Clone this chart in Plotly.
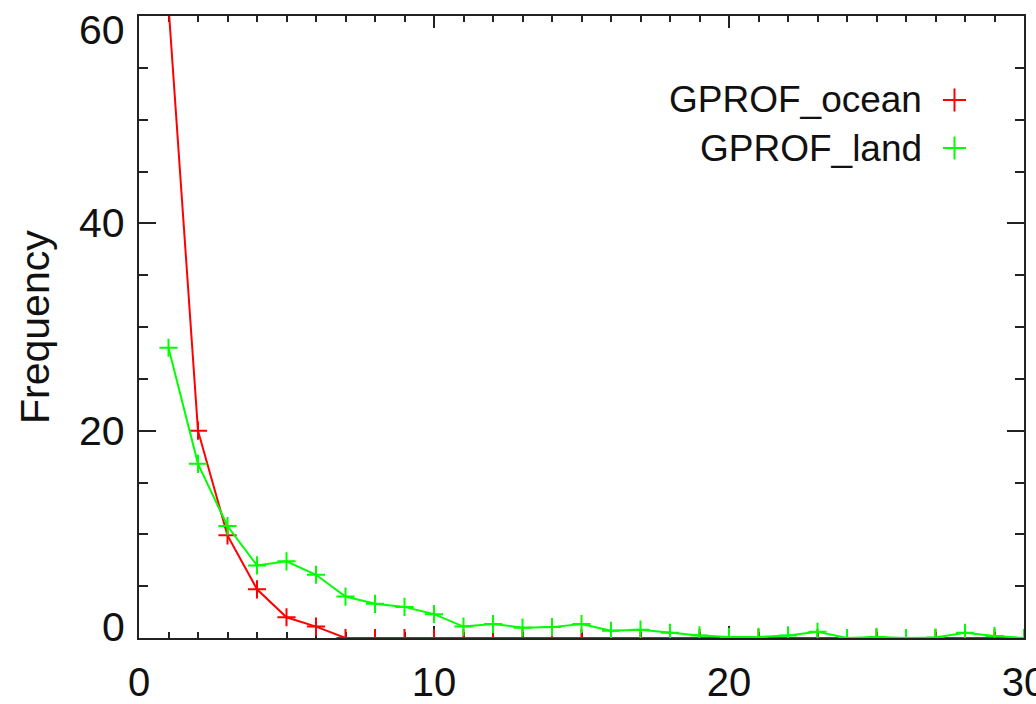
import plotly.graph_objects as go

# Frequency distributions for the two GPROF surface classes
bins = list(range(1, 31))
ocean_freq = [61.0, 20.0, 9.9, 4.7, 2.0, 1.1, 0, 0, 0, 0,
              0, 0, 0, 0, 0, 0, 0, 0, 0, 0,
              0, 0, 0, 0, 0, 0, 0, 0, 0, 0]
land_freq = [28.0, 16.8, 10.8, 7.0, 7.4, 6.1, 4.0, 3.3, 3.0, 2.3,
             1.1, 1.35, 1.0, 1.05, 1.35, 0.7, 0.8, 0.5, 0.25, 0.1,
             0.1, 0.25, 0.6, 0.0, 0.1, 0.0, 0.05, 0.5, 0.2, 0.0]

x_ticks = [0, 10, 20, 30]
y_ticks = [0, 20, 40, 60]

series = [("GPROF_ocean", ocean_freq, "#ff0000"),
          ("GPROF_land", land_freq, "#00ff00")]

FONT = "Liberation Sans"
TXT = "#111111"
W, H = 1036, 704
ML, MR, MT, MB = 139, 12, 16, 66

fig = go.Figure()
for name, vals, col in series:
    fig.add_trace(go.Scatter(
        x=bins, y=vals, mode="lines+markers", name=name,
        line=dict(color=col, width=2),
        marker=dict(symbol="cross-thin", size=13,
                    line=dict(color=col, width=2)),
        cliponaxis=True, showlegend=False,
    ))

axis_common = dict(
    showgrid=False, zeroline=False, showline=True, mirror="allticks",
    linecolor="#222222", linewidth=2, ticks="inside",
    tickcolor="#222222", tickwidth=2, layer="below traces",
    ticklabeloverflow="allow", automargin=False,
    tickfont=dict(family=FONT, size=40, color=TXT),
)

fig.update_xaxes(range=[0, 30], tickvals=x_ticks, ticklen=12,
                 minor=dict(dtick=1, ticklen=6, ticks="inside",
                            tickcolor="#222222", tickwidth=2),
                 ticklabelstandoff=8,
                 **axis_common)
fig.update_yaxes(range=[0, 60], tickvals=y_ticks, ticklen=17,
                 showticklabels=False,
                 minor=dict(dtick=5, ticklen=9, ticks="inside",
                            tickcolor="#222222", tickwidth=2),
                 **axis_common)

# Y tick labels: the end labels are nudged inward so they stay beside the frame
for v in y_ticks:
    shift = -14 if v == max(y_ticks) else (11 if v == min(y_ticks) else 0)
    fig.add_annotation(x=0, y=v, xref="paper", yref="y", text=str(v),
                       showarrow=False, xanchor="right", yanchor="middle",
                       xshift=-12, yshift=shift,
                       font=dict(family=FONT, size=41, color=TXT))

pw = W - ML - MR
ph = H - MT - MB
def px_to_paper(xp, yp):
    return (xp - ML) / pw, 1 - (yp - MT) / ph

# Y axis title
tx, ty = px_to_paper(35, 327)
fig.add_annotation(x=tx, y=ty, xref="paper", yref="paper", text="Frequency",
                   textangle=-90, showarrow=False, xanchor="center",
                   yanchor="middle", font=dict(family=FONT, size=41, color=TXT))

# Legend: right-aligned label followed by a plus symbol
legend_rows = [(100, series[0]), (148, series[1])]
for yp, (name, _, col) in legend_rows:
    tx, ty = px_to_paper(924, yp)
    fig.add_annotation(x=tx, y=ty, xref="paper", yref="paper",
                       text=name, showarrow=False, xanchor="right",
                       yanchor="middle",
                       font=dict(family=FONT, size=37, color=TXT))
    cx0, cy = px_to_paper(943, yp)
    cx1, _ = px_to_paper(966, yp)
    cx, cy0 = px_to_paper(954.5, yp - 11.5)
    _, cy1 = px_to_paper(954.5, yp + 11.5)
    fig.add_shape(type="line", xref="paper", yref="paper",
                  x0=cx0, x1=cx1, y0=cy, y1=cy, line=dict(color=col, width=2))
    fig.add_shape(type="line", xref="paper", yref="paper",
                  x0=cx, x1=cx, y0=cy0, y1=cy1, line=dict(color=col, width=2))

fig.update_layout(
    width=W, height=H,
    margin=dict(l=ML, r=MR, t=MT, b=MB, pad=0, autoexpand=False),
    paper_bgcolor="white", plot_bgcolor="white",
    showlegend=False,
)

fig.write_html("out.html")
